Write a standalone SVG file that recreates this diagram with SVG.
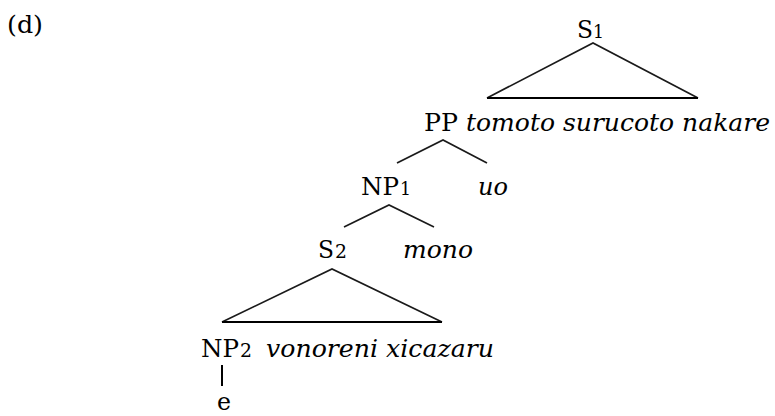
<svg xmlns="http://www.w3.org/2000/svg" width="775" height="416" viewBox="0 0 775 416">
<style>
text{font-family:'DejaVu Serif','Liberation Serif',serif;font-size:25px;fill:#000}
.it{font-style:italic}
.sub{font-size:19px}
.edge{stroke:#1a1a1a;stroke-width:1.7;fill:none;stroke-linejoin:miter}
.base{stroke:#000;stroke-width:2;fill:none}
</style>
<rect width="775" height="416" fill="#fff"/>
<text id="label-d" x="7" y="33" textLength="36" lengthAdjust="spacingAndGlyphs">(d)</text>
<g id="connectors">
<path class="edge" d="M487,98 L593,43 L698,98"/>
<path class="base" d="M487,98 L698,98"/>
<path class="edge" d="M397,163 L443,140 L487,163"/>
<path class="edge" d="M344,227 L389,205 L434,227"/>
<path class="edge" d="M222,322 L332,269 L442,322"/>
<path class="base" d="M222,322 L442,322"/>
<path class="base" d="M222,365 L222,386" stroke-width="2.5"/>
</g>
<g id="S1">
<text x="577" y="38" textLength="16" lengthAdjust="spacingAndGlyphs">S</text>
<text class="sub" x="593" y="38" textLength="11" lengthAdjust="spacingAndGlyphs">1</text>
</g>
<g id="PP">
<text x="424" y="131" textLength="34" lengthAdjust="spacingAndGlyphs">PP</text>
<text class="it" x="466" y="131" textLength="304" lengthAdjust="spacingAndGlyphs">tomoto surucoto nakare</text>
</g>
<g id="NP1">
<text x="361" y="195" textLength="38" lengthAdjust="spacingAndGlyphs">NP</text>
<text class="sub" x="400" y="195" textLength="11" lengthAdjust="spacingAndGlyphs">1</text>
</g>
<g id="uo"><text class="it" x="478" y="195" textLength="30" lengthAdjust="spacingAndGlyphs">uo</text></g>
<g id="S2">
<text x="318" y="258" textLength="16" lengthAdjust="spacingAndGlyphs">S</text>
<text class="sub" x="335" y="258" textLength="12" lengthAdjust="spacingAndGlyphs">2</text>
</g>
<g id="mono"><text class="it" x="403" y="258" textLength="70" lengthAdjust="spacingAndGlyphs">mono</text></g>
<g id="NP2">
<text x="201" y="357" textLength="38" lengthAdjust="spacingAndGlyphs">NP</text>
<text class="sub" x="240" y="357" textLength="12" lengthAdjust="spacingAndGlyphs">2</text>
<text class="it" x="266" y="357" textLength="228" lengthAdjust="spacingAndGlyphs">vonoreni xicazaru</text>
</g>
<g id="e"><text x="217" y="410" textLength="14" lengthAdjust="spacingAndGlyphs">e</text></g>
</svg>
